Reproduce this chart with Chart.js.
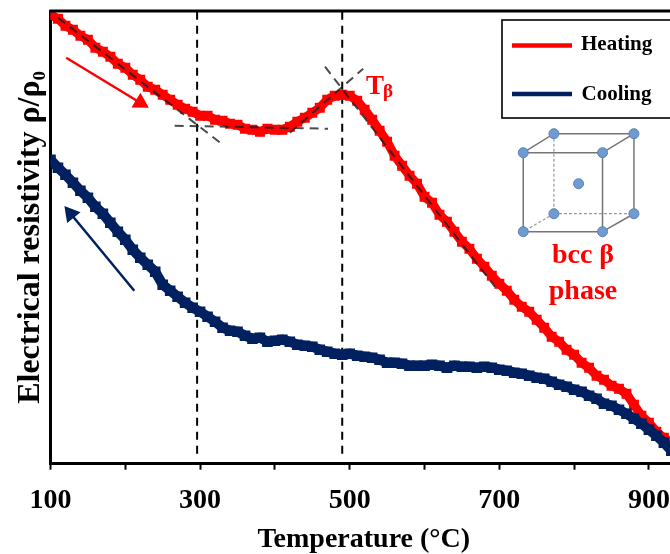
<!DOCTYPE html>
<html><head><meta charset="utf-8">
<style>html,body{margin:0;padding:0;background:#fff}#w{width:670px;height:554px;position:relative}</style>
<script src="https://cdn.jsdelivr.net/npm/chart.js@4"></script>
</head><body><div id="w"><canvas id="c" width="670" height="554"></canvas></div>
<script>
const temperatures=[100,110,120,130,140,150,160,170,180,190,200,210,220,230,240,250,260,270,280,290,300,310,320,330,340,350,360,370,380,390,400,410,420,430,440,450,460,470,480,490,500,510,520,530,540,550,560,570,580,590,600,610,620,630,640,650,660,670,680,690,700,710,720,730,740,750,760,770,780,790,800,810,820,830,840,850,860,870,880,890,900,910,920,930];
const heating=[449,445,438,434,428,424,416,412,407,400,396,389,384,377,374,369,364,359,355,352,348,348,344,343,340,339,335,334,332,335,334,334,337,342,346,351,356,364,368,369,368,363,354,344,333,322,308,298,288,280,267,261,249,242,232,222,215,205,197,188,180,173,164,157,152,144,136,127,122,114,109,101,96,88,84,78,75,70,59,48,41,32,26,21];
const cooling=[304,296,289,281,273,266,257,250,241,232,224,214,206,199,192,179,173,167,161,156,152,147,142,136,133,132,128,125,126,122,123,124,122,119,118,117,114,112,110,109,110,108,107,106,104,101,101,100,98,98,98,99,98,96,98,97,97,96,97,96,94,93,91,90,88,86,85,82,79,77,74,72,68,65,60,58,54,50,45,40,34,28,21,13];
const xTickLabels=['100','300','500','700','900'];
const marker1=[[296,10],[296,453]];
const marker2=[[490,10],[490,453]];
const tangentA=[[110,446],[327,321]];
const tangentB=[[266,338],[471,335]];
const tangentC=[[420,331],[518,395]];
const tangentD=[[467,397],[694,177]];
const arrowHeat=[[121,406],[220,361]];
const arrowCool=[[212,173],[127,250]];
const cubeSolid=[[732,311],[838,311],[838,232],[732,232],[732,311],[773,330],[880,330],[880,250],[838,232],null,[838,311],[880,330]];
const cubeDashed=[[773,330],[773,250],[880,250],null,[773,250],[732,232]];
const cubeAtoms=[[732,311],[838,311],[732,232],[838,232],[773,330],[880,330],[773,250],[880,250],[806,280]];

const toXY=a=>a.map(p=>p?{x:p[0],y:p[1]}:{x:null,y:null});
const SERIF='"Liberation Serif"';
const dashed=(data,color,w,dash,order)=>({data:toXY(data),borderColor:color,borderWidth:w,borderDash:dash,pointRadius:0,showLine:true,order,fill:false,tension:0});
const X0=50.5,BOTTOM=463.7,TOP=11;

const deco={id:'deco',
 afterDatasetsDraw(ch){
  const c=ch.ctx,a=ch.chartArea;
  c.save();
  c.strokeStyle='#000';c.lineWidth=3;
  c.beginPath();c.moveTo(a.left-1,a.top);c.lineTo(670,a.top);c.stroke();
  c.fillStyle='#fff';c.strokeStyle='#000';c.lineWidth=1.6;
  c.fillRect(502,20,170,98);c.strokeRect(502,20,170,98);
  c.lineWidth=4.5;
  c.strokeStyle='#ff0000';c.beginPath();c.moveTo(512,45.5);c.lineTo(572,45.5);c.stroke();
  c.strokeStyle='#002060';c.beginPath();c.moveTo(512,94);c.lineTo(572,94);c.stroke();
  c.textBaseline='alphabetic';c.textAlign='left';
  c.fillStyle='#000';c.font='bold 21px '+SERIF;
  c.fillText('Heating',581,50);c.fillText('Cooling',581.5,100);
  c.fillStyle='#ff0000';
  c.font='bold 27px '+SERIF;c.fillText('T',366,94);
  c.font='bold 19px '+SERIF;c.fillText('β',383,97);
  c.textAlign='center';c.font='bold 28px '+SERIF;
  c.fillText('bcc β',583,263);c.fillText('phase',583,299);
  c.restore();
 }};

new Chart(document.getElementById('c'),{
 type:'scatter',
 data:{datasets:[
  dashed(marker1,'#000',2,[8,6],6),
  dashed(marker2,'#000',2,[8,6],6),
  {data:temperatures.map((t,i)=>({x:t,y:heating[i]})),showLine:true,borderColor:'#ff0000',backgroundColor:'#ff0000',borderWidth:9,pointStyle:'rect',pointRadius:7,pointBorderWidth:0,order:5},
  {data:temperatures.map((t,i)=>({x:t,y:cooling[i]})),showLine:true,borderColor:'#002060',backgroundColor:'#002060',borderWidth:10,pointStyle:'rect',pointRadius:7.5,pointBorderWidth:0,order:4},
  dashed(tangentA,'rgba(30,30,30,.8)',2,[9,6],3),
  dashed(tangentB,'rgba(30,30,30,.8)',2,[9,6],3),
  dashed(tangentC,'rgba(30,30,30,.8)',2,[9,6],3),
  dashed(tangentD,'rgba(30,30,30,.8)',2,[9,6],3),
  {data:toXY(arrowHeat),showLine:true,borderColor:'#ff0000',backgroundColor:'#ff0000',borderWidth:2.5,pointStyle:'triangle',pointRadius:[0,10],pointRotation:121,pointBorderWidth:0,order:2},
  {data:toXY(arrowCool),showLine:true,borderColor:'#002060',backgroundColor:'#002060',borderWidth:2.5,pointStyle:'triangle',pointRadius:[0,10],pointRotation:-39,pointBorderWidth:0,order:2},
  {data:toXY(cubeSolid),showLine:true,spanGaps:false,borderColor:'#757575',borderWidth:1.5,pointRadius:0,order:2},
  {data:toXY(cubeDashed),showLine:true,spanGaps:false,borderColor:'#9a9a9a',borderWidth:1.2,borderDash:[3,2],pointRadius:0,order:2},
  {data:toXY(cubeAtoms),showLine:false,backgroundColor:'#6f9bd1',borderColor:'#5b82b5',borderWidth:1,pointRadius:5,order:1}
 ]},
 options:{responsive:false,animation:false,
  layout:{autoPadding:false,padding:{top:TOP,right:0,left:0,bottom:0}},
  plugins:{legend:{display:false},tooltip:{enabled:false}},
  events:[],
  scales:{
   x:{type:'linear',min:100,max:928.2,
    afterFit(s){s.height=554-BOTTOM;s.paddingLeft=0;s.paddingRight=0;},
    grid:{display:true,drawOnChartArea:false,drawTicks:true,tickLength:6,tickWidth:2,tickColor:'#000'},
    border:{display:true,color:'#000',width:3},
    ticks:{stepSize:100,autoSkip:false,includeBounds:false,maxRotation:0,color:'#000',padding:14,
      font:{family:SERIF,weight:'bold',size:28},
      callback:v=>xTickLabels.includes(String(v))?String(v):''},
    title:{display:true,text:'\u00a0Temperature (°C)',color:'#000',font:{family:SERIF,weight:'bold',size:28,lineHeight:1},padding:{top:10,bottom:0}}
   },
   y:{type:'linear',min:0,max:452.7,
    afterFit(s){s.width=X0;},
    grid:{display:false},
    border:{display:true,color:'#000',width:3},
    ticks:{display:false},
    title:{display:true,text:'Electrical resistivity ρ/ρ₀',color:'#000',font:{family:SERIF,weight:'bold',size:32},padding:{top:12,bottom:0}}
   }
  }
 },
 plugins:[deco]
});
</script></body></html>
